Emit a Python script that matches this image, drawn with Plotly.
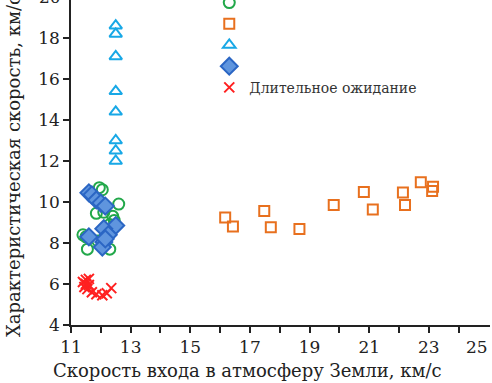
import plotly.graph_objects as go

# Green circles
circ_x = [11.95, 12.05, 12.6, 11.85, 12.1, 12.45, 12.3, 12.4, 11.4, 11.5, 11.55, 12.3, 12.1, 11.9]
circ_y = [10.7, 10.6, 9.9, 9.45, 9.5, 9.1, 8.9, 9.3, 8.4, 8.3, 7.7, 7.7, 7.9, 8.1]

# Orange squares
sq_x = [16.17, 16.43, 17.48, 17.70, 18.66, 19.81, 20.82, 21.12, 22.13, 22.20, 22.73, 23.14, 23.11]
sq_y = [9.25, 8.80, 9.56, 8.77, 8.68, 9.85, 10.49, 9.64, 10.46, 9.85, 10.96, 10.75, 10.54]

# Cyan triangles
tri_x = [12.5, 12.5, 12.5, 12.5, 12.5, 12.5, 12.5, 12.5]
tri_y = [18.6, 18.2, 17.1, 15.4, 14.4, 13.0, 12.5, 12.0]

# Blue diamonds
dia_x = [11.6, 11.7, 11.85, 12.0, 12.15, 12.5, 12.1, 12.25, 12.1, 12.05, 11.6, 12.15]
dia_y = [10.45, 10.35, 10.1, 9.95, 9.8, 8.85, 8.7, 8.4, 8.05, 7.8, 8.3, 8.2]

# Red crosses
x_x = [11.4, 11.5, 11.6, 11.5, 11.45, 11.6, 11.55, 11.7, 11.85, 12.05, 12.2, 12.35]
x_y = [6.1, 6.2, 6.25, 6.0, 5.85, 5.95, 5.75, 5.6, 5.5, 5.45, 5.55, 5.8]

names = ["", " ", "  ", "   ", "Длительное ожидание"]

x_tickvals = [11, 13, 15, 17, 19, 21, 23]
y_tickvals = [4, 6, 8, 10, 12, 14, 16, 18]

FONT = "DejaVu Serif"

fig = go.Figure()
fig.add_trace(go.Scatter(x=circ_x, y=circ_y, mode="markers", name=names[0],
                         marker=dict(symbol="circle-open", size=11, color="#22a84a", line=dict(width=2))))
fig.add_trace(go.Scatter(x=sq_x, y=sq_y, mode="markers", name=names[1],
                         marker=dict(symbol="square-open", size=10, color="#e8701e", line=dict(width=2))))
fig.add_trace(go.Scatter(x=tri_x, y=tri_y, mode="markers", name=names[2],
                         marker=dict(symbol="triangle-up-open", size=11, color="#18a8e6", line=dict(width=2))))
fig.add_trace(go.Scatter(x=dia_x, y=dia_y, mode="markers", name=names[3],
                         marker=dict(symbol="diamond", size=13, color="#5f95de",
                                     line=dict(width=2, color="#2b66c4"))))
fig.add_trace(go.Scatter(x=x_x, y=x_y, mode="markers", name=names[4],
                         marker=dict(symbol="x-thin-open", size=10, color="#ff2020", line=dict(width=2))))

yr = [4, 4 + 325 / 20.5]
xr = [11, 25.05]

fig.update_layout(
    width=492, height=383,
    margin=dict(l=71, r=2, t=0, b=58, autoexpand=False),
    paper_bgcolor="white", plot_bgcolor="white",
    font=dict(family=FONT, size=16, color="#222"),
    showlegend=True,
    legend=dict(x=0.33, y=1.04, xanchor="left", yanchor="top",
                bgcolor="rgba(0,0,0,0)", font=dict(size=14, family=FONT, color="#333"),
                tracegroupgap=0, itemwidth=30),
    xaxis=dict(range=xr, tickvals=x_tickvals, ticks="outside", ticklen=6, tickwidth=1.5,
               tickcolor="#222", showline=True, linecolor="#222", linewidth=1.5,
               showgrid=False, zeroline=False, tickfont=dict(size=17, family=FONT),
               minor=dict(tickvals=[12, 14, 16, 18, 20, 22, 24], ticks="outside", ticklen=6,
                          tickwidth=1.5, tickcolor="#222")),
    yaxis=dict(range=yr, tickvals=y_tickvals, ticks="outside", ticklen=6, tickwidth=1.5,
               tickcolor="#222", showline=True, linecolor="#222", linewidth=1.5,
               showgrid=False, zeroline=False, tickfont=dict(size=17, family=FONT),
               ticklabeloverflow="allow"),
)

# "25" label at the right edge of the x axis
fig.add_annotation(x=1, y=-(347 - 325) / 325, xref="paper", yref="paper", text="25", showarrow=False,
                   xanchor="right", yanchor="middle", xshift=0, font=dict(size=17, family=FONT, color="#222"))

# "20" tick just above the visible area
y20 = (20 - yr[0]) / (yr[1] - yr[0])
fig.add_annotation(x=0, y=y20, xref="paper", yref="paper", text="20", showarrow=False,
                   xanchor="right", yanchor="middle", xshift=-8, font=dict(size=17, family=FONT, color="#222"))
fig.add_shape(type="line", xref="paper", yref="paper", x0=-6 / 419, x1=0, y0=y20, y1=y20,
              line=dict(color="#222", width=1.5))

fig.add_annotation(x=(247 - 71) / 419, y=-(370 - 325) / 325, xref="paper", yref="paper",
                   text="Скорость входа в атмосферу Земли, км/с", showarrow=False,
                   xanchor="center", yanchor="middle", font=dict(size=18, family=FONT, color="#222"))
fig.add_annotation(x=-(71 - 13) / 419, y=(325 - 166) / 325, xref="paper", yref="paper",
                   text="Характеристическая скорость, км/с", showarrow=False, textangle=-90,
                   xanchor="center", yanchor="middle", font=dict(size=18, family=FONT, color="#222"))

fig.write_html("out.html", post_script="document.body.style.margin='0px';",
               config={"displayModeBar": False})
